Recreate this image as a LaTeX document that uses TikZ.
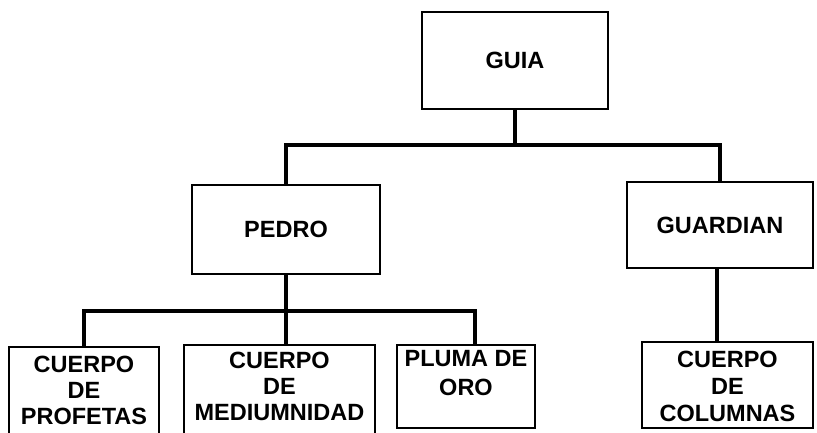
\documentclass[tikz,border=0pt]{standalone}
\usepackage{fontspec}
\setmainfont{Liberation Sans}
\begin{document}
\begin{tikzpicture}[x=1pt,y=-1pt,
  box/.style={draw=black,line width=2.4pt,inner sep=0pt,outer sep=0pt,rectangle},
  lbl/.style={inner sep=0pt,align=center,font=\fontsize{23.5}{26}\selectfont\bfseries},
  conn/.style={draw=black,line width=4.5pt,line cap=butt}]
\useasboundingbox (0,0) rectangle (817,432);
\clip (0,0) rectangle (817,432);
% boxes
\node[box,minimum width=186pt,minimum height=97pt] (guia) at (515,60.5) {};
\node[box,minimum width=188pt,minimum height=89pt] (pedro) at (286,229.5) {};
\node[box,minimum width=186pt,minimum height=86pt] (guardian) at (720,225) {};
\node[box,minimum width=150pt,minimum height=110pt] (profetas) at (84,402) {};
\node[box,minimum width=191pt,minimum height=110pt] (medium) at (279.5,400) {};
\node[box,minimum width=138pt,minimum height=83pt] (pluma) at (466,386.5) {};
\node[box,minimum width=171pt,minimum height=86pt] (columnas) at (727.5,385) {};
% labels
\node[lbl] (tguia) at (guia.center) {GUIA};
\node[lbl] (tpedro) at (pedro.center) {PEDRO};
\node[lbl] (tguardian) at (guardian.center) {GUARDIAN};
\node[lbl,anchor=north] (tprofetas) at ([yshift=-9pt]profetas.north) {CUERPO\\DE\\PROFETAS};
\node[lbl,anchor=north] (tmedium) at ([yshift=-7pt]medium.north) {CUERPO\\DE\\MEDIUMNIDAD};
\node[lbl,anchor=north,font=\fontsize{23.5}{29}\selectfont\bfseries] (tpluma) at ([yshift=-5pt]pluma.north) {PLUMA DE\\ORO};
\node[lbl,anchor=north,font=\fontsize{23.5}{27}\selectfont\bfseries] (tcolumnas) at ([yshift=-9pt]columnas.north) {CUERPO\\DE\\COLUMNAS};
% connectors
\coordinate (b1) at (516,145);
\coordinate (b2) at (286,311);
\coordinate (plumatop) at ([xshift=9pt]pluma.north);
\draw[conn] (guia.south) -- (guia.south |- b1);
\draw[conn] (pedro.north) |- (b1) -| (guardian.north);
\draw[conn] (pedro.south) -- (pedro.south |- medium.north);
\draw[conn] (profetas.north) |- (b2) -| (plumatop);
\draw[conn] ([xshift=-3pt]guardian.south) -- ([xshift=-3pt]guardian.south |- columnas.north);
\end{tikzpicture}
\end{document}
